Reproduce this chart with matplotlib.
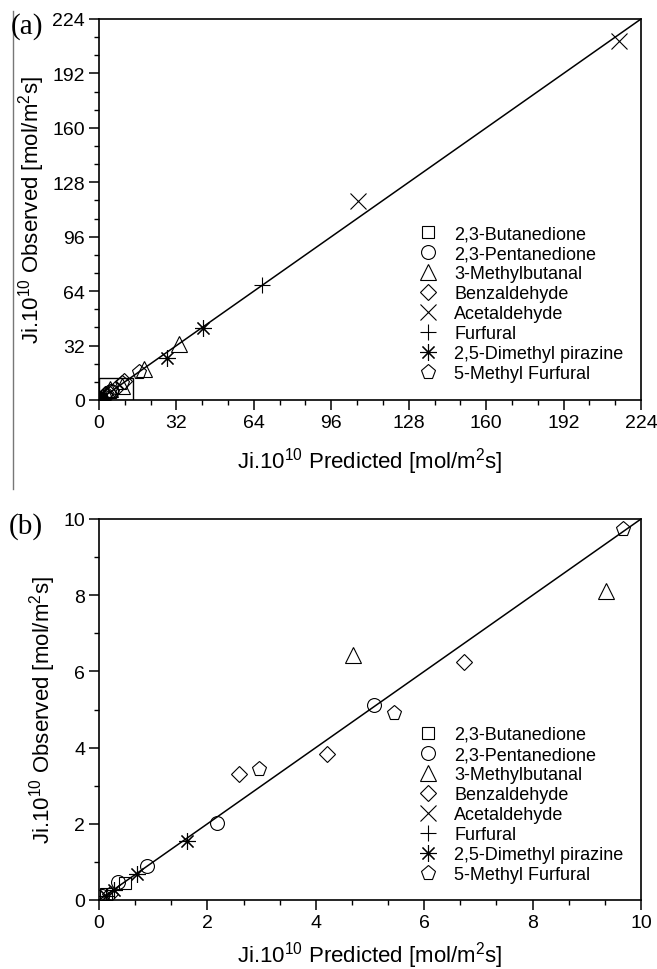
import matplotlib
matplotlib.use("Agg")
import matplotlib.pyplot as plt
from matplotlib.lines import Line2D
from matplotlib.patches import Rectangle
from matplotlib.ticker import MultipleLocator

plt.rcParams['font.family'] = ['Liberation Sans', 'DejaVu Sans']
plt.rcParams['mathtext.fontset'] = 'custom'
plt.rcParams['mathtext.rm'] = 'Liberation Sans'
plt.rcParams['mathtext.it'] = 'Liberation Sans:italic'
plt.rcParams['mathtext.bf'] = 'Liberation Sans:bold'

# ---- data (predicted x, observed y) ----
compounds = ["2,3-Butanedione", "2,3-Pentanedione", "3-Methylbutanal", "Benzaldehyde",
             "Acetaldehyde", "Furfural", "2,5-Dimethyl pirazine", "5-Methyl Furfural"]

butanedione_x = [0.12, 0.48]
butanedione_y = [0.15, 0.45]
pentanedione_x = [0.05, 0.35, 0.88, 2.18, 5.08]
pentanedione_y = [0.10, 0.47, 0.88, 2.01, 5.13]
methylbutanal_x = [4.68, 9.35, 18.5, 33.0]
methylbutanal_y = [6.42, 8.10, 18.0, 32.8]
benzaldehyde_x = [0.20, 2.59, 4.21, 6.73, 10.5]
benzaldehyde_y = [0.15, 3.32, 3.84, 6.24, 11.3]
acetaldehyde_x = [107.0, 215.0]
acetaldehyde_y = [117.0, 211.0]
furfural_x = [67.2]
furfural_y = [67.6]
pirazine_x = [0.12, 0.27, 0.70, 1.62, 28.2, 43.0]
pirazine_y = [0.10, 0.27, 0.68, 1.56, 24.8, 42.4]
methylfurfural_x = [2.96, 5.45, 9.67, 16.5]
methylfurfural_y = [3.45, 4.92, 9.74, 16.2]

series_x = [butanedione_x, pentanedione_x, methylbutanal_x, benzaldehyde_x,
            acetaldehyde_x, furfural_x, pirazine_x, methylfurfural_x]
series_y = [butanedione_y, pentanedione_y, methylbutanal_y, benzaldehyde_y,
            acetaldehyde_y, furfural_y, pirazine_y, methylfurfural_y]

markers = ['s', 'o', '^', 'D', 'x', '+', (8, 2, 0), 'p']
msizes = [9, 10, 11, 8, 11, 12, 12, 11]

ticks_a = [0, 32, 64, 96, 128, 160, 192, 224]
ticks_b = [0, 2, 4, 6, 8, 10]

W, H = 657, 970
fig = plt.figure(figsize=(W / 100, H / 100), dpi=100)

def px_axes(l, t, r, b):
    return fig.add_axes([l / W, 1 - b / H, (r - l) / W, (b - t) / H])

ax_a = px_axes(99, 20, 641, 401)
ax_b = px_axes(99, 520, 641, 901)

xlabel = r'Ji.10$^{10}$ Predicted [mol/m$^2$s]'
ylabel = r'Ji.10$^{10}$ Observed [mol/m$^2$s]'

def draw(ax, lim, ticks, xminor, yminor, legend_top, xlabelpad):
    ax.plot([0, 224], [0, 224], color='black', lw=1.1, zorder=2)
    handles = []
    for name, xs, ys, m, ms in zip(compounds, series_x, series_y, markers, msizes):
        h, = ax.plot(xs, ys, linestyle='none', marker=m, markersize=ms,
                     markerfacecolor='none', markeredgecolor='black',
                     markeredgewidth=0.8, label=name, zorder=3)
        handles.append(h)
    ax.set_xlim(0, lim)
    ax.set_ylim(0, lim)
    ax.set_xticks(ticks)
    ax.set_yticks(ticks)
    ax.xaxis.set_minor_locator(MultipleLocator(xminor))
    ax.yaxis.set_minor_locator(MultipleLocator(yminor))
    ax.tick_params(which='major', direction='out', length=7, width=1.1,
                   labelsize=14, top=False, right=False, pad=3)
    ax.tick_params(which='minor', direction='out', length=3.5, width=1.0,
                   top=False, right=False)
    for s in ax.spines.values():
        s.set_linewidth(1.2)
    ax.set_xlabel(xlabel, fontsize=16, labelpad=xlabelpad)
    ax.set_ylabel(ylabel, fontsize=16, labelpad=4)
    ax.legend(handles=handles, loc='upper left',
              bbox_to_anchor=(419 / W, 1 - legend_top / H),
              bbox_transform=fig.transFigure, frameon=False, fontsize=13,
              handlelength=1.0, handletextpad=0.94, labelspacing=0.17,
              borderpad=0, borderaxespad=0)

draw(ax_a, 224, ticks_a, 32 / 3, 32 / 3, 226, 10)
ax_a.add_patch(Rectangle((0, 0), 14, 13, fill=False, edgecolor='black', lw=1.0, zorder=4))
draw(ax_b, 10, ticks_b, 2 / 3, 1, 727, 6)

fig.text(11 / W, 1 - 27 / H, '(a)', family='Liberation Serif', fontsize=21,
         ha='left', va='center')
fig.text(9 / W, 1 - 527 / H, '(b)', family='Liberation Serif', fontsize=21,
         ha='left', va='center')
fig.add_artist(Line2D([13 / W, 13 / W], [1 - 12 / H, 1 - 490 / H],
                      color='#777777', lw=1.0))

fig.savefig('out.png', dpi=100)
